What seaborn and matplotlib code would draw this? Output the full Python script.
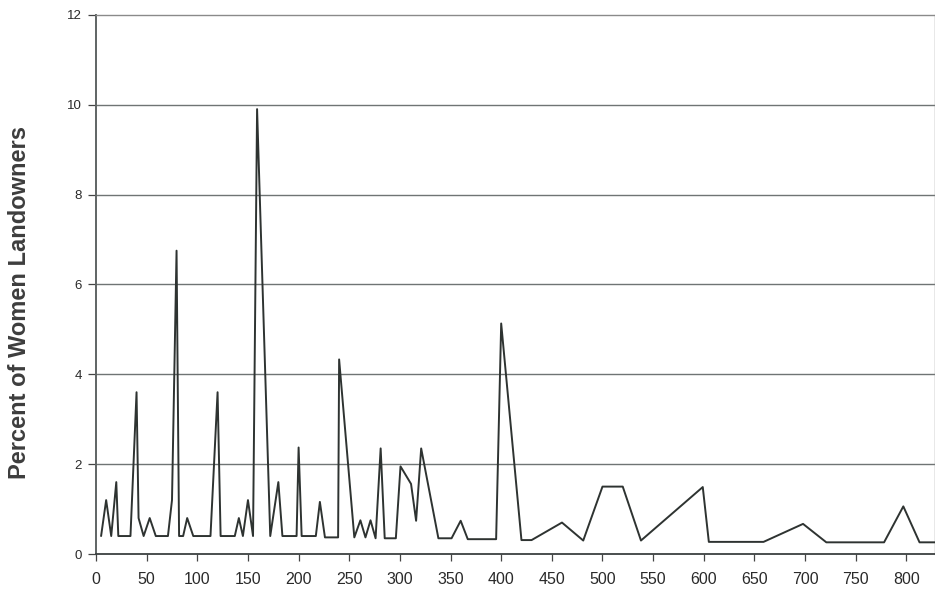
import matplotlib
matplotlib.use("Agg")
import matplotlib.pyplot as plt
import pandas as pd
import seaborn as sns

# values (x = size class, y = percent)
X_VALS = [5, 10, 15, 20, 22, 34, 40, 42, 47, 53, 59, 71, 75, 79.5, 82, 86, 90, 96,
          113, 120, 123, 137, 141, 145, 150, 155, 159, 172, 180, 184, 198, 200, 203,
          217, 221, 226, 239, 240, 255, 261, 266, 271, 276, 281, 285, 296, 300.6,
          311, 316, 321, 338, 351, 360, 367, 395, 400, 420, 430, 460, 481, 500, 520,
          538, 599, 605, 659, 698, 721, 778, 797, 813, 830]
PCT_WOMEN = [0.4, 1.2, 0.4, 1.6, 0.4, 0.4, 3.6, 0.8, 0.4, 0.8, 0.4, 0.4, 1.2, 6.75,
             0.4, 0.4, 0.8, 0.4, 0.4, 3.6, 0.4, 0.4, 0.8, 0.4, 1.2, 0.4, 9.9, 0.4,
             1.6, 0.4, 0.4, 2.37, 0.4, 0.4, 1.16, 0.37, 0.37, 4.33, 0.37, 0.75, 0.37,
             0.75, 0.35, 2.35, 0.35, 0.35, 1.95, 1.56, 0.74, 2.35, 0.35, 0.35, 0.74,
             0.33, 0.33, 5.13, 0.31, 0.31, 0.7, 0.3, 1.5, 1.5, 0.3, 1.49, 0.27, 0.27,
             0.67, 0.26, 0.26, 1.06, 0.26, 0.26]
X_TICKS = list(range(0, 801, 50))
Y_TICKS = list(range(0, 13, 2))
Y_LABEL = "Percent of Women Landowners"

sns.set_style("white")
plt.rcParams["font.family"] = ["Liberation Sans", "DejaVu Sans"]

df = pd.DataFrame({"x": X_VALS, "pct": PCT_WOMEN})

fig = plt.figure(figsize=(9.35, 5.9), dpi=100)
ax = fig.add_axes([0.1027, 0.061, 0.897, 0.914])

for yv in Y_TICKS[1:-1]:
    ax.axhline(yv, color="#6f7474", linewidth=1.0, zorder=1)

sns.lineplot(data=df, x="x", y="pct", ax=ax, color="#2e3331", linewidth=1.4,
             estimator=None, sort=False, zorder=3)

ax.set_xlim(0, 828)
ax.set_ylim(0, 12)
ax.set_xticks(X_TICKS)
ax.set_yticks(Y_TICKS)
ax.set_xticklabels([str(t) for t in X_TICKS],
                   family=["Liberation Sans Narrow", "Liberation Sans"],
                   fontsize=11.5, color="#2a2a2a")
ax.set_yticklabels([str(t) for t in Y_TICKS], fontsize=9.5, color="#2a2a2a")
ax.tick_params(axis="x", direction="out", length=5, width=0.9, color="#444444", pad=8, bottom=True)
ax.tick_params(axis="y", direction="out", length=6, width=0.9, color="#444444", pad=4, left=True)

ax.set_xlabel("")
ax.set_ylabel(Y_LABEL, fontsize=17, fontweight="bold", color="#3d3d3d")
ax.yaxis.set_label_coords(-0.077, 0.467)

for side in ["top", "right"]:
    ax.spines[side].set_visible(True)
    ax.spines[side].set_linestyle((0, (1, 1)))
    ax.spines[side].set_color("#8a8a8a")
    ax.spines[side].set_linewidth(1.0)
ax.spines["left"].set_color("#5f6464")
ax.spines["left"].set_linewidth(1.4)
ax.spines["bottom"].set_color("#3b4040")
ax.spines["bottom"].set_linewidth(1.3)

fig.savefig("out.png", dpi=100)
